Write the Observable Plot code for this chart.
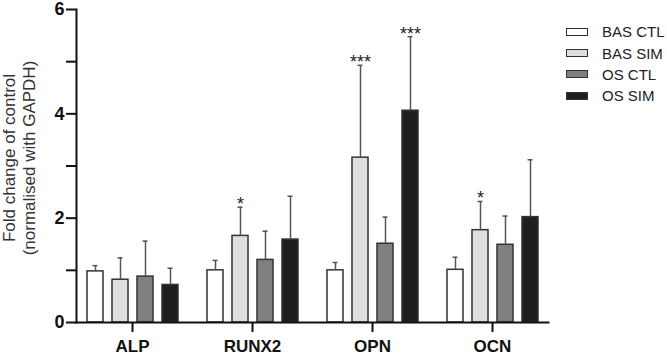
<!DOCTYPE html>
<html>
<head>
<meta charset="utf-8">
<script src="https://cdn.jsdelivr.net/npm/d3@7"></script>
<script src="https://cdn.jsdelivr.net/npm/@observablehq/plot@0.6"></script>
<style>
  html, body { margin: 0; padding: 0; background: #fff; }
  #wrap { position: relative; width: 667px; height: 355px; font-family: "Liberation Sans", Arial, sans-serif; }
  #legend { position: absolute; left: 566px; top: 21px; font-size: 15px; color: #222; }
  #legend .row { display: flex; align-items: center; height: 21.4px; }
  #legend .sw { box-sizing: border-box; width: 22px; height: 8px; border: 1px solid #333; margin-right: 14px; }
</style>
</head>
<body>
<div id="wrap"><div id="legend"></div></div>
<script>
const categories = ["ALP", "RUNX2", "OPN", "OCN"];
const series = ["BAS CTL", "BAS SIM", "OS CTL", "OS SIM"];
const colors = ["#ffffff", "#dedede", "#7f7f7f", "#1f1f1f"];

// means per series, in category order
const basCtl = [0.98, 1.00, 1.00, 1.01];
const basSim = [0.82, 1.66, 3.16, 1.77];
const osCtl  = [0.88, 1.20, 1.51, 1.49];
const osSim  = [0.72, 1.59, 4.06, 2.02];
// upper error (SD)
const basCtlSd = [0.11, 0.19, 0.15, 0.24];
const basSimSd = [0.42, 0.55, 1.77, 0.55];
const osCtlSd  = [0.68, 0.55, 0.51, 0.55];
const osSimSd  = [0.32, 0.83, 1.42, 1.10];
// significance marks
const basSimSig = ["", "*", "***", "*"];
const osSimSig  = ["", "", "***", ""];
const basCtlSig = ["", "", "", ""];
const osCtlSig  = ["", "", "", ""];

const yTicks = [0, 1, 2, 3, 4, 5, 6];
const yLabels = [0, 2, 4, 6];
const yTitle = "Fold change of control\n(normalised with GAPDH)";

const means = [basCtl, basSim, osCtl, osSim];
const sds = [basCtlSd, basSimSd, osCtlSd, osSimSd];
const sigs = [basCtlSig, basSimSig, osCtlSig, osSimSig];

const data = [];
categories.forEach((c, i) => {
  series.forEach((s, j) => {
    data.push({category: c, series: s, value: means[j][i], top: means[j][i] + sds[j][i], sig: sigs[j][i]});
  });
});

const font = '"Liberation Sans", Arial, sans-serif';

const chart = Plot.plot({
  width: 667,
  height: 355,
  marginLeft: 76,
  marginRight: 119,
  marginTop: 9,
  marginBottom: 33,
  style: {fontFamily: font, color: "#111", background: "transparent"},
  fx: {domain: categories, paddingInner: 0.0667, paddingOuter: 0, label: null},
  x: {domain: series, paddingInner: 0.368, paddingOuter: 0.395, axis: null},
  y: {domain: [0, 6], axis: null},
  color: {domain: series, range: colors},
  marks: [
    Plot.barY(data, {fx: "category", x: "series", y: "value", fill: "series", stroke: "#333", strokeWidth: 1.5}),
    Plot.ruleX(data, {fx: "category", x: "series", y1: "value", y2: "top", stroke: "#555", strokeWidth: 1.5}),
    Plot.tickY(data, {fx: "category", x: "series", y: "top", stroke: "#555", strokeWidth: 1.5, insetLeft: 5.5, insetRight: 5.5}),
    Plot.text(data, {fx: "category", x: "series", y: "top", text: "sig", fontSize: 18, fill: "#222", lineAnchor: "bottom", dy: 3}),
    Plot.frame({anchor: "bottom", facet: "super", stroke: "#111", strokeWidth: 2}),
    Plot.frame({anchor: "left", facet: "super", stroke: "#111", strokeWidth: 2}),
    Plot.axisY({ticks: yTicks, tickSize: 10, tickPadding: 2, strokeWidth: 2, stroke: "#111",
      tickFormat: d => yLabels.includes(d) ? String(d) : "", fontSize: 18, fontWeight: "bold", label: null}),
    Plot.axisFx({anchor: "bottom", tickSize: 10, tickPadding: 7, strokeWidth: 2, stroke: "#111",
      fontSize: 17, fontWeight: "bold", label: null}),
    Plot.text([yTitle], {facet: "super", frameAnchor: "left", text: d => d, rotate: -90, dx: -58, dy: -8,
      fontSize: 17, fill: "#333", lineHeight: 1.2, textAnchor: "middle", lineAnchor: "middle"})
  ]
});

const wrap = document.getElementById("wrap");
wrap.insertBefore(chart, wrap.firstChild);

const legend = document.getElementById("legend");
series.forEach((s, j) => {
  const row = document.createElement("div");
  row.className = "row";
  const sw = document.createElement("div");
  sw.className = "sw";
  sw.style.background = colors[j];
  const t = document.createElement("span");
  t.textContent = s;
  row.appendChild(sw);
  row.appendChild(t);
  legend.appendChild(row);
});
</script>
</body>
</html>
